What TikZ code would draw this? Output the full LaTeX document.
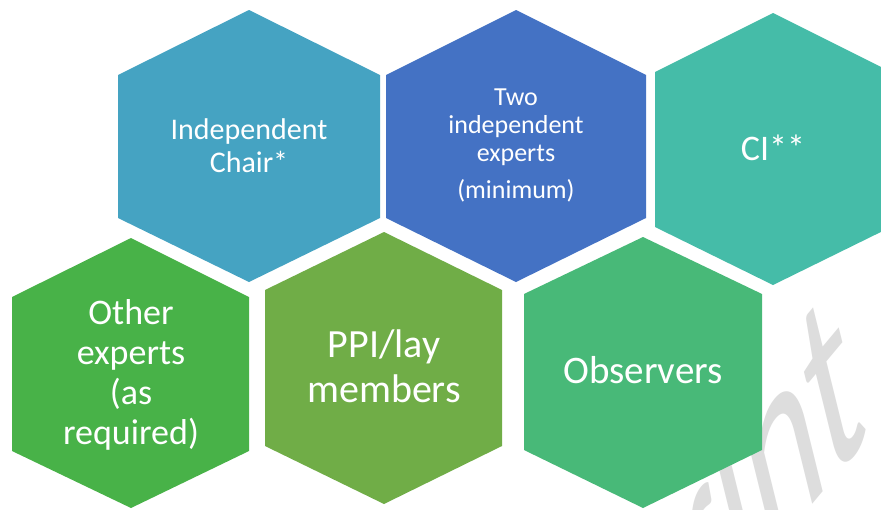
\documentclass[tikz,border=0pt]{standalone}
\usepackage{fontspec}
\setmainfont{Carlito}
\definecolor{hexA}{RGB}{69,163,194}
\definecolor{hexB}{RGB}{68,114,196}
\definecolor{hexC}{RGB}{69,188,168}
\definecolor{hexD}{RGB}{72,178,72}
\definecolor{hexE}{RGB}{112,173,71}
\definecolor{hexF}{RGB}{72,185,120}
\definecolor{wmgray}{RGB}{221,221,221}
\newcommand{\hexlines}[1]{\begin{tabular}[t]{@{}c@{}}#1\end{tabular}}
\begin{document}
\begin{tikzpicture}[x=1pt,y=-1pt,
  lbl/.style={text=white, inner sep=0pt, anchor=base}]
\useasboundingbox (0,0) rectangle (881,509);
\begin{scope}
\clip (0,0) rectangle (881,509);
\fill[white] (0,0) rectangle (881,509);
% watermark
\begin{scope}[shift={(467,918)}, cm={1.22,1.46,-0.59,2.39,(0,0)}]
\node[transform shape, anchor=base west, inner sep=0pt, text=wmgray,
  font=\fontsize{100}{100}\selectfont] (wm) at (0,0) {Preprint};
\end{scope}
% hexagons
\fill[hexA] (249,10) -- (380,75) -- (380,218) -- (249,282) -- (118,218) -- (118,75) -- cycle;
\fill[hexB] (516,10) -- (646,75) -- (646,218) -- (516,282) -- (386,218) -- (386,75) -- cycle;
\fill[hexC] (773,13) -- (891,72) -- (891,227) -- (773,285) -- (655,227) -- (655,72) -- cycle;
\fill[hexD] (131,238) -- (249,297) -- (249,451) -- (131,508) -- (12,451) -- (12,297) -- cycle;
\fill[hexE] (384,232) -- (502,290) -- (502,446) -- (384,504) -- (265,446) -- (265,290) -- cycle;
\fill[hexF] (643,237) -- (762,294) -- (762,450) -- (643,508) -- (524,450) -- (524,294) -- cycle;
\end{scope}
% labels
\node[lbl, font=\fontsize{30}{33}\selectfont] (chair) at (249,139) {\hexlines{Independent\\Chair*}};
\node[lbl, font=\fontsize{26}{28}\selectfont] (two) at (516,105) {\hexlines{Two\\independent\\experts\\[9pt](minimum)}};
\node[lbl, font=\fontsize{36}{40}\selectfont] (ci) at (773,160) {CI**};
\node[lbl, font=\fontsize{36}{40}\selectfont] (other) at (131,324) {\hexlines{Other\\experts\\(as\\required)}};
\node[lbl, font=\fontsize{40}{45}\selectfont] (ppi) at (384,357) {\hexlines{PPI/lay\\members}};
\node[lbl, font=\fontsize{39}{44}\selectfont] (obs) at (643,383) {Observers};
\end{tikzpicture}
\end{document}
